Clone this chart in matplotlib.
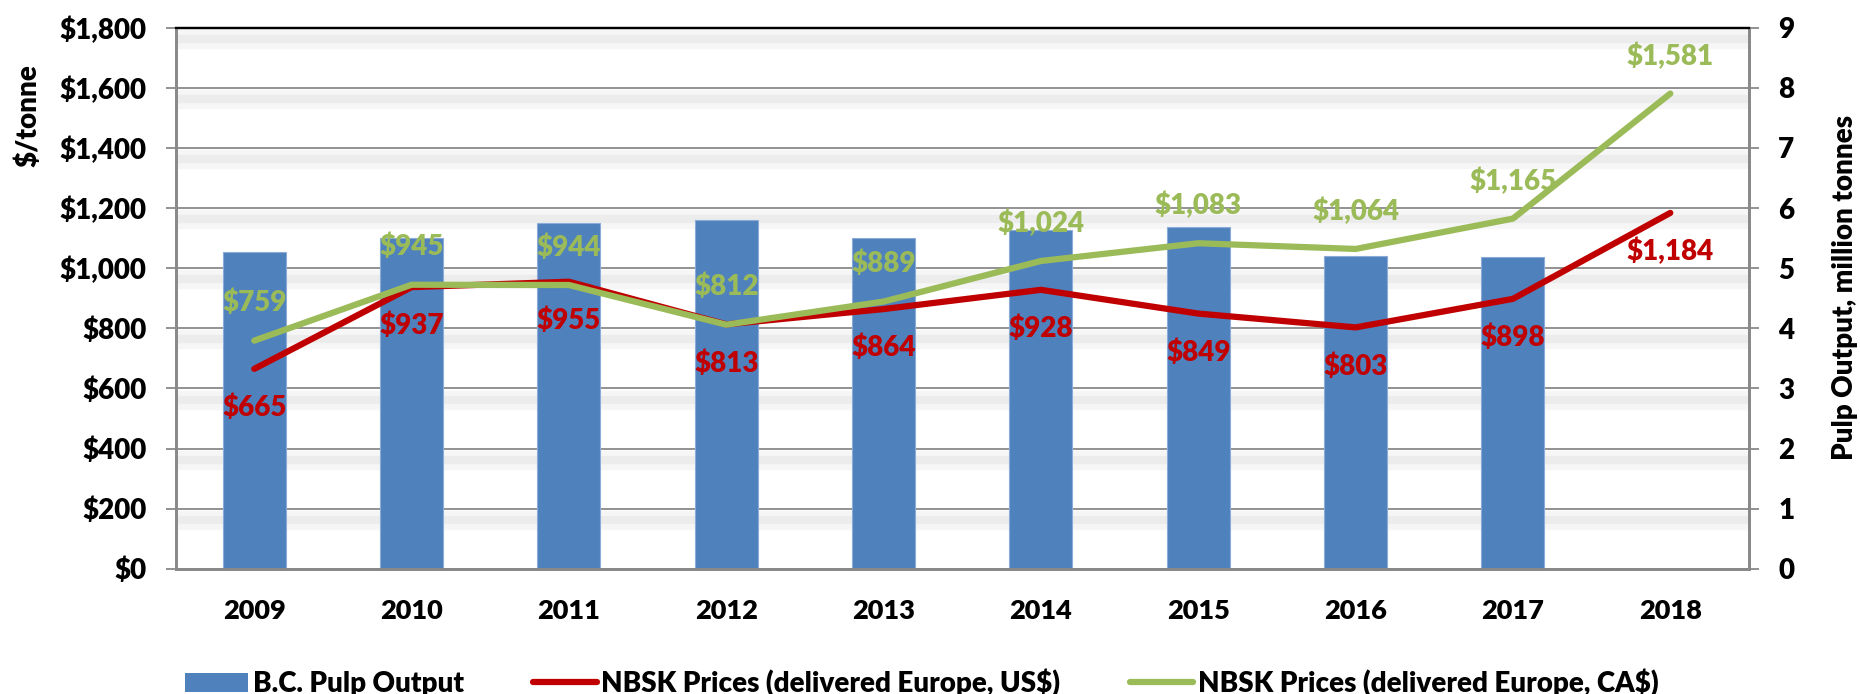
import numpy as np
import matplotlib
matplotlib.use("Agg")
import matplotlib.pyplot as plt
import matplotlib.patheffects as pe
from matplotlib.patches import Patch
from matplotlib.lines import Line2D
from matplotlib.ticker import FuncFormatter

## data
years = ["2009", "2010", "2011", "2012", "2013", "2014", "2015", "2016", "2017", "2018"]
pulp_output = [5.27, 5.50, 5.76, 5.80, 5.50, 5.64, 5.69, 5.20, 5.18, np.nan]  # million tonnes
nbsk_us = [665, 937, 955, 813, 864, 928, 849, 803, 898, 1184]
nbsk_ca = [759, 945, 944, 812, 889, 1024, 1083, 1064, 1165, 1581]

bar_color = "#4F81BD"
red = "#C00000"
green = "#9BBB59"
grid_gray = "#898989"
W = "heavy"

plt.rcParams["font.family"] = ["Lato", "DejaVu Sans"]
plt.rcParams["font.weight"] = W

fig = plt.figure(figsize=(18.6, 6.94), dpi=100)
ax1 = fig.add_axes([0.0944, 0.1805, 0.8459, 0.7795])
ax2 = ax1.twinx()

x = np.arange(len(years))

## bars + gridlines on the right axis (behind)
ax2.bar(x, pulp_output, width=0.4, color=bar_color, edgecolor="#8AACD6", linewidth=0.8, zorder=2)
ax2.set_ylim(0, 9)
ax2.set_yticks(range(0, 10))
ax2.set_axisbelow(True)
ax2.yaxis.grid(True, color=grid_gray, lw=1.3,
               path_effects=[pe.SimpleLineShadow(offset=(0, -8), shadow_color="#c8c8c8",
                                                 alpha=0.15, linewidth=14),
                             pe.SimpleLineShadow(offset=(0, -8), shadow_color="#c8c8c8",
                                                 alpha=0.2, linewidth=6),
                             pe.Normal()])

## lines on the left axis (front)
ax1.set_zorder(ax2.get_zorder() + 1)
ax1.patch.set_visible(False)
ax1.plot(x, nbsk_us, color=red, lw=4.5, solid_capstyle="round", solid_joinstyle="round", zorder=3)
ax1.plot(x, nbsk_ca, color=green, lw=4.5, solid_capstyle="round", solid_joinstyle="round", zorder=4)
ax1.set_ylim(0, 1800)
ax1.set_xlim(-0.5, len(years) - 0.5)
ax1.set_yticks(range(0, 1801, 200))
ax1.yaxis.set_major_formatter(FuncFormatter(lambda v, p: f"${v:,.0f}"))
ax1.set_xticks(x)
ax1.set_xticklabels(years)

for i, v in enumerate(nbsk_ca):
    ax1.annotate(f"${v:,}", (i, v), xytext=(0, 27), textcoords="offset points",
                 ha="center", va="center", color=green, fontsize=20, fontweight=W)
for i, v in enumerate(nbsk_us):
    ax1.annotate(f"${v:,}", (i, v), xytext=(0, -28), textcoords="offset points",
                 ha="center", va="center", color=red, fontsize=20, fontweight=W)

## ticks
ax1.tick_params(axis="y", length=7, width=1.3, color=grid_gray, pad=14, labelsize=20)
ax2.tick_params(axis="y", length=7, width=1.3, color=grid_gray, pad=14, labelsize=20)
ax1.tick_params(axis="x", length=0, pad=22, labelsize=19.5)

## spines
for ax in (ax1, ax2):
    for s in ("left", "right", "bottom"):
        ax.spines[s].set_color(grid_gray)
        ax.spines[s].set_linewidth(2)
    ax.spines["top"].set_color("black")
    ax.spines["top"].set_linewidth(1.6)

## axis titles
fig.text(0.0154, 0.834, "$/tonne", rotation=90, ha="center", va="center",
         fontsize=20, fontweight=W)
fig.text(0.992, 0.5865, "Pulp Output, million tonnes", rotation=90, ha="center", va="center",
         fontsize=20, fontweight=W)

## legend
handles = [Patch(facecolor=bar_color),
           Line2D([], [], color=red, lw=4.5, solid_capstyle="round"),
           Line2D([], [], color=green, lw=4.5, solid_capstyle="round")]
labels = ["B.C. Pulp Output", "NBSK Prices (delivered Europe, US$)", "NBSK Prices (delivered Europe, CA$)"]
fig.legend(handles, labels, loc="center", bbox_to_anchor=(0.4954, 0.016), ncol=3, frameon=False,
           prop={"family": "Lato", "weight": W, "size": 20},
           handlelength=2.3, handletextpad=0.15, columnspacing=2.5)

plt.savefig("out.png", dpi=100)
plt.close()
